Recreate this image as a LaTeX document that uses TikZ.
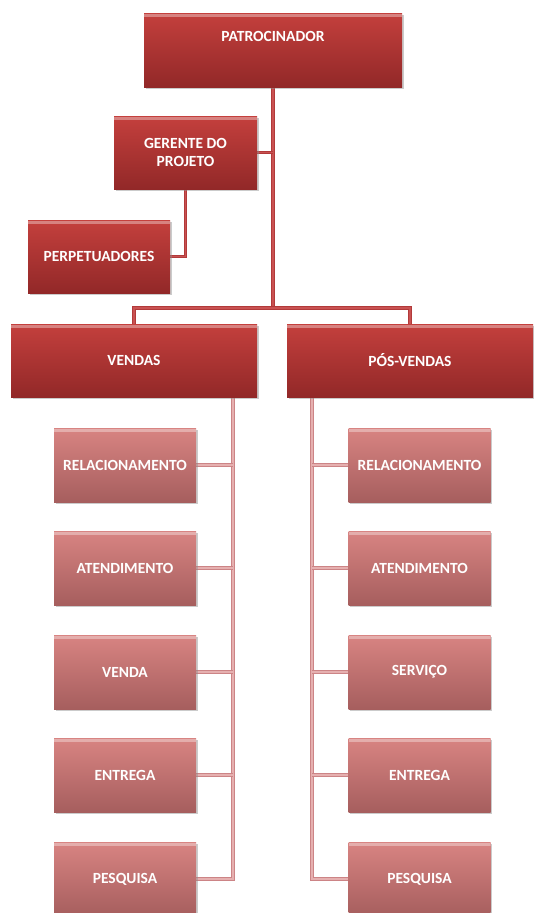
\documentclass[tikz,border=0pt]{standalone}
\usepackage{fontspec}
\setmainfont{Carlito}
\usetikzlibrary{shadows,backgrounds}

\definecolor{darktop}{HTML}{C4403D}
\definecolor{darkbot}{HTML}{922828}
\definecolor{lighttop}{HTML}{D88482}
\definecolor{lightbot}{HTML}{A65E5E}
\definecolor{linkdark}{HTML}{B23A3A}
\definecolor{linkdarkin}{HTML}{C95252}
\definecolor{linklight}{HTML}{CC8486}
\definecolor{linklightin}{HTML}{E6B0B0}

\tikzset{
  boxbase/.style={rectangle, draw=none, text=white, align=center, inner sep=0pt,
    font=\bfseries\fontsize{15.5}{18}\selectfont,
    drop shadow={shadow xshift=1.5pt, shadow yshift=-1.5pt, fill=black!45, opacity=0.45},
    path picture={
      \fill[white, opacity=0.35] ([yshift=-1pt]path picture bounding box.north west)
        rectangle ([yshift=-3.5pt]path picture bounding box.north east);
    }},
  darkbox/.style={boxbase, top color=darktop, bottom color=darkbot},
  lightbox/.style={boxbase, top color=lighttop, bottom color=lightbot,
    minimum width=142pt, minimum height=74pt},
  toplink/.style={draw=linkdark, line width=3.6pt,
    postaction={draw=linkdarkin, line width=1.2pt}},
  sublink/.style={draw=linklight, line width=3.6pt,
    postaction={draw=linklightin, line width=1.2pt}},
}

\begin{document}
\begin{tikzpicture}[x=1pt, y=-1pt]
  \useasboundingbox (0,0) rectangle (534,913);
  \clip (0,0) rectangle (534,913);

  % junction points of the tree
  \coordinate (bar)  at (273,308);
  \coordinate (vtop) at (233,397);
  \coordinate (ptop) at (312,397);

  % upper level
  \node[darkbox, minimum width=258pt, minimum height=74pt,
        text height=10pt, text depth=28pt] (pat) at (273,50) {PATROCINADOR};
  \node[darkbox, minimum width=143pt, minimum height=73pt] (ger) at (185.5,152.5)
        {GERENTE DO\\PROJETO};
  \node[darkbox, minimum width=142pt, minimum height=73pt] (per) at (99,256.5)
        {PERPETUADORES};
  \node[darkbox, minimum width=246pt, minimum height=73pt] (ven) at (134,360.5) {VENDAS};
  \node[darkbox, minimum width=246pt, minimum height=73pt] (pos) at (410,360.5) {PÓS-VENDAS};

  % left branch
  \node[lightbox] (l1) at (125,465) {RELACIONAMENTO};
  \node[lightbox] (l2) at (125,568) {ATENDIMENTO};
  \node[lightbox] (l3) at (125,672) {VENDA};
  \node[lightbox] (l4) at (125,775) {ENTREGA};
  \node[lightbox] (l5) at (125,879) {PESQUISA};

  % right branch
  \node[lightbox] (r1) at (419.5,465) {RELACIONAMENTO};
  \node[lightbox] (r2) at (419.5,568) {ATENDIMENTO};
  \node[lightbox] (r3) at (419.5,672) {SERVIÇO};
  \node[lightbox] (r4) at (419.5,775) {ENTREGA};
  \node[lightbox] (r5) at (419.5,879) {PESQUISA};

  \begin{pgfonlayer}{background}
    % upper connectors
    \draw[toplink] (pat.south) -- (bar);
    \draw[toplink] (ger.east) -- (ger.east -| bar);
    \draw[toplink] (ger.south) |- (per.east);
    \draw[toplink] (ven.north) |- (bar) -| (pos.north);

    % lower connectors
    \draw[sublink] (vtop) |- (l5.east);
    \draw[sublink] (ptop) |- (r5.west);
    \foreach \c in {l1,l2,l3,l4}
      \draw[sublink] (\c.east) -- (\c.east -| vtop);
    \foreach \c in {r1,r2,r3,r4}
      \draw[sublink] (\c.west) -- (\c.west -| ptop);
  \end{pgfonlayer}
\end{tikzpicture}
\end{document}
